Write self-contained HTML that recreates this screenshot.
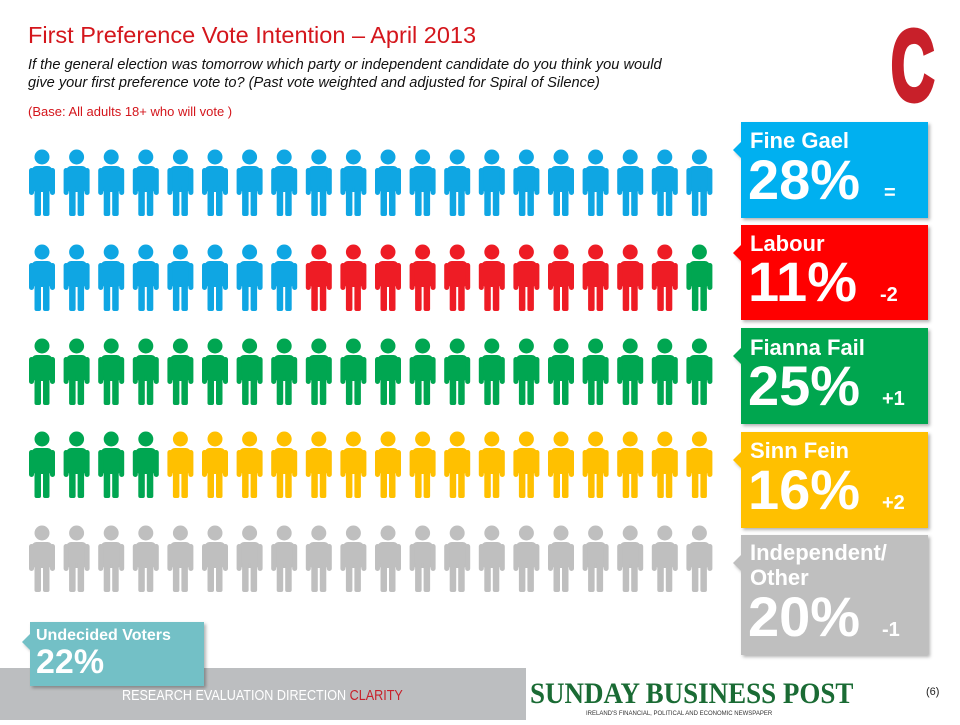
<!DOCTYPE html>
<html><head><meta charset="utf-8"><style>
body{margin:0;width:960px;height:720px;overflow:hidden;background:#fff;font-family:"Liberation Sans",sans-serif}
</style></head><body>
<svg id="s" width="960" height="720" viewBox="0 0 960 720" xmlns="http://www.w3.org/2000/svg" font-family="Liberation Sans, sans-serif">
<defs>
<g id="p">
<circle cx="0" cy="9" r="7.5"/>
<rect x="-10.5" y="18" width="21" height="26" rx="5"/>
<rect x="-13" y="20" width="5" height="27" rx="2.5"/>
<rect x="8" y="20" width="5" height="27" rx="2.5"/>
<rect x="-7.5" y="38" width="6.5" height="30" rx="2"/>
<rect x="1" y="38" width="6.5" height="30" rx="2"/>
</g>
<filter id="sh"><feDropShadow dx="2" dy="2" stdDeviation="1.5" flood-color="#000" flood-opacity="0.3"/></filter>
</defs>
<text x="28" y="43" font-size="23.5" fill="#d4161c">First Preference Vote Intention – April 2013</text>
<text x="28" y="69" font-size="14.6" font-style="italic" fill="#111">If the general election was tomorrow which party or independent candidate do you think you would</text>
<text x="28" y="87" font-size="14.6" font-style="italic" fill="#111">give your first preference vote to?  (Past vote weighted and adjusted for Spiral of Silence)</text>
<text x="28" y="116" font-size="13" fill="#d4161c">(Base: All adults 18+ who will vote )</text>
<text x="0" y="0" font-size="100" font-weight="bold" fill="#c8202a" stroke="#c8202a" stroke-width="5" transform="translate(891,100) scale(0.6,1)">C</text>
<g id="figs"></g>
<rect x="0" y="668" width="526" height="52" fill="#bcbec0"/>
<g filter="url(#sh)">
<path d="M741 122H928V218H741V158L733 150L741 142Z" fill="#00b0f0"/>
<path d="M741 225H928V320H741V261L733 253L741 245Z" fill="#ff0000"/>
<path d="M741 328H928V424H741V364L733 356L741 348Z" fill="#00a650"/>
<path d="M741 432H928V528H741V468L733 460L741 452Z" fill="#ffc000"/>
<path d="M741 535H928V655H741V571L733 563L741 555Z" fill="#bfbfbf"/>
<path d="M30 622H204V686H30V650L22 642L30 634Z" fill="#73c0c6"/>
</g>
<g fill="#fff" font-weight="bold">
<text x="750" y="148" font-size="22">Fine Gael</text>
<text x="748" y="199" font-size="56">28%</text><text x="884" y="199" font-size="20">=</text>
<text x="750" y="251" font-size="22">Labour</text>
<text x="748" y="301" font-size="56">11%</text><text x="880" y="301" font-size="20">-2</text>
<text x="750" y="355" font-size="22">Fianna Fail</text>
<text x="748" y="405" font-size="56">25%</text><text x="882" y="405" font-size="20">+1</text>
<text x="750" y="458" font-size="22">Sinn Fein</text>
<text x="748" y="509" font-size="56">16%</text><text x="882" y="509" font-size="20">+2</text>
<text x="750" y="560" font-size="22">Independent/</text>
<text x="750" y="585" font-size="22">Other</text>
<text x="748" y="636" font-size="56">20%</text><text x="882" y="636" font-size="20">-1</text>
<text x="36" y="640" font-size="16">Undecided Voters</text>
<text x="36" y="673" font-size="34">22%</text>
</g>
<text x="122" y="700" font-size="15" fill="#fff" transform="translate(122,0) scale(0.84,1) translate(-122,0)">RESEARCH EVALUATION DIRECTION <tspan fill="#c8202a">CLARITY</tspan></text>
<text x="530" y="703" font-size="30" font-family="Liberation Serif, serif" font-weight="bold" fill="#1a6b34" transform="translate(530,0) scale(0.9,1) translate(-530,0)">SUNDAY BUSINESS POST</text>
<text x="586" y="715" font-size="6" fill="#333">IRELAND'S FINANCIAL, POLITICAL AND ECONOMIC NEWSPAPER</text>
<text x="926" y="695" font-size="11" fill="#222">(6)</text>
</svg>
<script>
var cols={b:"#0fa6e3",r:"#ee1c25",g:"#00a651",y:"#ffc000",k:"#bfbfbf"};
var rows=[
"bbbbbbbbbbbbbbbbbbbb",
"bbbbbbbbrrrrrrrrrrrg",
"gggggggggggggggggggg",
"ggggyyyyyyyyyyyyyyyy",
"kkkkkkkkkkkkkkkkkkkk"];
var tops=[148,243,337,430,524];
var h="";
for(var r=0;r<5;r++)for(var i=0;i<20;i++){
var x=42+i*34.6;
h+='<use href="#p" x="'+x.toFixed(1)+'" y="'+tops[r]+'" fill="'+cols[rows[r][i]]+'"/>';
}
document.getElementById("figs").innerHTML=h;
</script>
</body></html>
